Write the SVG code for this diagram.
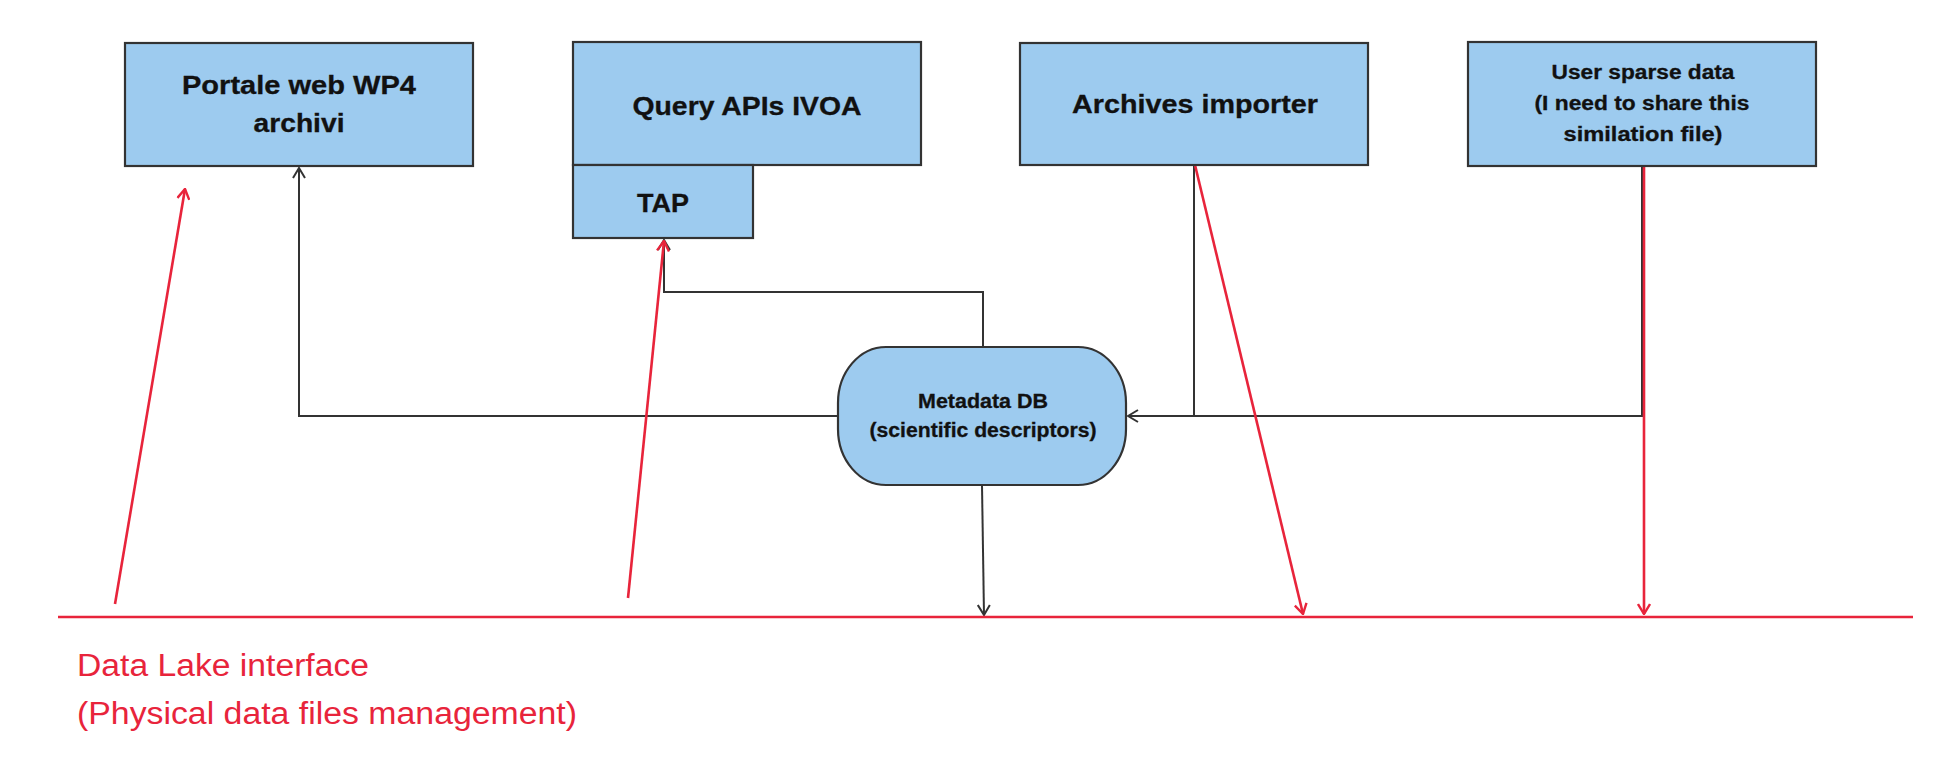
<svg xmlns="http://www.w3.org/2000/svg" width="1936" height="780" viewBox="0 0 1936 780">
  <style>
    .box { fill: #9dcbef; stroke: #333; stroke-width: 2.2; }
    .lbl { font-family: "Liberation Sans", Arial, sans-serif; font-weight: bold; fill: #111; text-anchor: middle; stroke: #111; stroke-width: 0.3; }
    .big { font-size: 26px; }
    .small { font-size: 20px; }
    .link { fill: none; stroke: #333; stroke-width: 2; }
    .lake { fill: none; stroke: #e8243b; stroke-width: 2.6; }
    .lake-txt { font-family: "Liberation Sans", Arial, sans-serif; font-size: 31px; fill: #e8243b; }
  </style>
  <defs>
    <marker id="arrow-dark" viewBox="0 0 12 14" refX="11" refY="7" markerWidth="12" markerHeight="14" markerUnits="userSpaceOnUse" orient="auto">
      <path d="M1,1 L11,7 L1,13" fill="none" stroke="#333" stroke-width="2"/>
    </marker>
    <marker id="arrow-red" viewBox="0 0 12 14" refX="11" refY="7" markerWidth="12" markerHeight="14" markerUnits="userSpaceOnUse" orient="auto">
      <path d="M1,1 L11,7 L1,13" fill="none" stroke="#e8243b" stroke-width="2.4"/>
    </marker>
  </defs>

  <rect width="1936" height="780" fill="#ffffff"/>

  <!-- connectors -->
  <g id="connectors">
    <!-- metadata links -->
    <path class="link" d="M838,416 H299 V168" marker-end="url(#arrow-dark)"/>
    <path class="link" d="M983,347 V292 H664 V240" marker-end="url(#arrow-dark)"/>
    <path class="link" d="M1194,165 V416"/>
    <path class="link" d="M1642,166 V416 H1128" marker-end="url(#arrow-dark)"/>
    <path class="link" d="M982,485 L984,615" marker-end="url(#arrow-dark)"/>
    <!-- data lake interface -->
    <path class="lake" d="M58,617 H1913"/>
    <path class="lake" d="M115,604 L185,189" marker-end="url(#arrow-red)"/>
    <path class="lake" d="M628,598 L664,241" marker-end="url(#arrow-red)"/>
    <path class="lake" d="M1195,165 L1303,614" marker-end="url(#arrow-red)"/>
    <path class="lake" d="M1644,166 V614" marker-end="url(#arrow-red)"/>
  </g>

  <g id="portale">
    <rect class="box" x="125" y="43" width="348" height="123"/>
    <text class="lbl big" x="299" y="94" textLength="234" lengthAdjust="spacingAndGlyphs">Portale web WP4</text>
    <text class="lbl big" x="299" y="132" textLength="91" lengthAdjust="spacingAndGlyphs">archivi</text>
  </g>

  <g id="query-apis">
    <rect class="box" x="573" y="42" width="348" height="123"/>
    <text class="lbl big" x="747" y="115" textLength="229" lengthAdjust="spacingAndGlyphs">Query APIs IVOA</text>
  </g>

  <g id="tap">
    <rect class="box" x="573" y="165" width="180" height="73"/>
    <text class="lbl big" x="663" y="212" textLength="52" lengthAdjust="spacingAndGlyphs">TAP</text>
  </g>

  <g id="archives-importer">
    <rect class="box" x="1020" y="43" width="348" height="122"/>
    <text class="lbl big" x="1195" y="113" textLength="246" lengthAdjust="spacingAndGlyphs">Archives importer</text>
  </g>

  <g id="user-data">
    <rect class="box" x="1468" y="42" width="348" height="124"/>
    <text class="lbl small" x="1643" y="79" textLength="183" lengthAdjust="spacingAndGlyphs">User sparse data</text>
    <text class="lbl small" x="1642" y="110" textLength="215" lengthAdjust="spacingAndGlyphs">(I need to share this</text>
    <text class="lbl small" x="1643" y="141" textLength="159" lengthAdjust="spacingAndGlyphs">similation file)</text>
  </g>

  <g id="metadata-db">
    <rect class="box" x="838" y="347" width="288" height="138" rx="48" ry="56"/>
    <text class="lbl small" x="983" y="408" textLength="130" lengthAdjust="spacingAndGlyphs">Metadata DB</text>
    <text class="lbl small" x="983" y="437" textLength="227" lengthAdjust="spacingAndGlyphs">(scientific descriptors)</text>
  </g>

  <g id="data-lake">
    <text class="lake-txt" x="77" y="676" textLength="292" lengthAdjust="spacingAndGlyphs">Data Lake interface</text>
    <text class="lake-txt" x="77" y="724" textLength="500" lengthAdjust="spacingAndGlyphs">(Physical data files management)</text>
  </g>
</svg>
